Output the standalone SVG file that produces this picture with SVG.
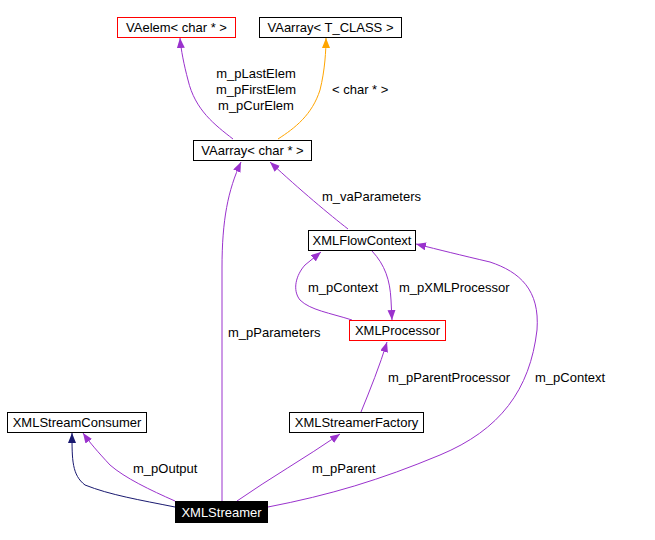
<svg xmlns="http://www.w3.org/2000/svg" width="655" height="540" viewBox="0 0 655 540">
<style>
text{font-family:"Liberation Sans",Arial,sans-serif;font-size:13px;fill:#000}
.n rect{fill:#fff;stroke-width:1}
.n text{text-anchor:middle}
.e path{fill:none;stroke-width:1}
.p{stroke:#9a32cd}
.o{stroke:#ffa500}
.b{stroke:#191970}
</style>
<defs>
<marker id="ap" markerUnits="userSpaceOnUse" markerWidth="12" markerHeight="9" refX="10" refY="4" orient="auto"><path d="M0,0 L10,4 L0,8 z" fill="#9a32cd"/></marker>
<marker id="ao" markerUnits="userSpaceOnUse" markerWidth="12" markerHeight="9" refX="10" refY="4" orient="auto"><path d="M0,0 L10,4 L0,8 z" fill="#ffa500"/></marker>
<marker id="ab" markerUnits="userSpaceOnUse" markerWidth="12" markerHeight="9" refX="10" refY="4" orient="auto"><path d="M0,0 L10,4 L0,8 z" fill="#191970"/></marker>
</defs>
<g id="edges" class="e">
<path class="p" marker-end="url(#ap)" d="M222,501 L222,268 C222,220 228,190 241,162"/>
<path class="p" marker-end="url(#ap)" d="M348,229 C330,215 300,190 270,162"/>
<path class="p" marker-end="url(#ap)" d="M233,139 C215,125 195,110 188,80 C184,65 181,50 180,38"/>
<path class="o" marker-end="url(#ao)" d="M278,139 C295,128 312,115 320,90 C325,70 326,50 326,38"/>
<path class="p" marker-end="url(#ap)" d="M372,251 C385,265 390,280 391,300 L392,320"/>
<path class="p" marker-end="url(#ap)" d="M352,320 C330,313 310,310 300,300 C292,290 296,275 305,265 L321,252"/>
<path class="p" marker-end="url(#ap)" d="M361,412 C370,390 380,365 387,342"/>
<path class="p" marker-end="url(#ap)" d="M268,507 C330,495 380,480 440,455 C500,430 530,390 537,330 C540,290 520,272 490,262 C460,255 440,250 416,244"/>
<path class="p" marker-end="url(#ap)" d="M237,501 C270,478 305,458 340,434"/>
<path class="p" marker-end="url(#ap)" d="M175,501 C150,490 125,478 110,465 C98,452 90,443 83,433"/>
<path class="b" marker-end="url(#ab)" d="M175,507 C140,500 110,495 85,485 C72,475 72,460 72,433"/>
<text x="256" y="77.5" text-anchor="middle">m_pLastElem</text>
<text x="256" y="93.5" text-anchor="middle">m_pFirstElem</text>
<text x="256" y="109.5" text-anchor="middle">m_pCurElem</text>
<text x="332" y="93.5">&lt; char * &gt;</text>
<text x="322" y="200.5">m_vaParameters</text>
<text x="308" y="291.5">m_pContext</text>
<text x="399" y="291.5">m_pXMLProcessor</text>
<text x="228" y="336.5">m_pParameters</text>
<text x="388" y="381.5">m_pParentProcessor</text>
<text x="535" y="381.5">m_pContext</text>
<text x="133" y="472.5">m_pOutput</text>
<text x="312" y="472.5">m_pParent</text>
</g>
<g id="VAelem" class="n"><rect x="117.5" y="17.5" width="118" height="20" stroke="#ff0000"/><text x="176.5" y="32">VAelem&lt; char * &gt;</text></g>
<g id="VAarrayT" class="n"><rect x="259.5" y="17.5" width="142" height="20" stroke="#000"/><text x="330.5" y="32">VAarray&lt; T_CLASS &gt;</text></g>
<g id="VAarrayChar" class="n"><rect x="193.5" y="140.5" width="118" height="20" stroke="#000"/><text x="252.5" y="155">VAarray&lt; char * &gt;</text></g>
<g id="XMLFlowContext" class="n"><rect x="308.5" y="230.5" width="107" height="20" stroke="#000"/><text x="362" y="245">XMLFlowContext</text></g>
<g id="XMLProcessor" class="n"><rect x="349.5" y="320.5" width="96" height="20" stroke="#ff0000"/><text x="397.5" y="335">XMLProcessor</text></g>
<g id="XMLStreamConsumer" class="n"><rect x="7.5" y="412.5" width="139" height="20" stroke="#000"/><text x="77" y="427">XMLStreamConsumer</text></g>
<g id="XMLStreamerFactory" class="n"><rect x="289.5" y="412.5" width="134" height="20" stroke="#000"/><text x="356.5" y="427">XMLStreamerFactory</text></g>
<g id="XMLStreamer"><rect x="175" y="501" width="93" height="22" fill="#000"/><text x="221.5" y="517" text-anchor="middle" style="fill:#fff">XMLStreamer</text></g>
</svg>
